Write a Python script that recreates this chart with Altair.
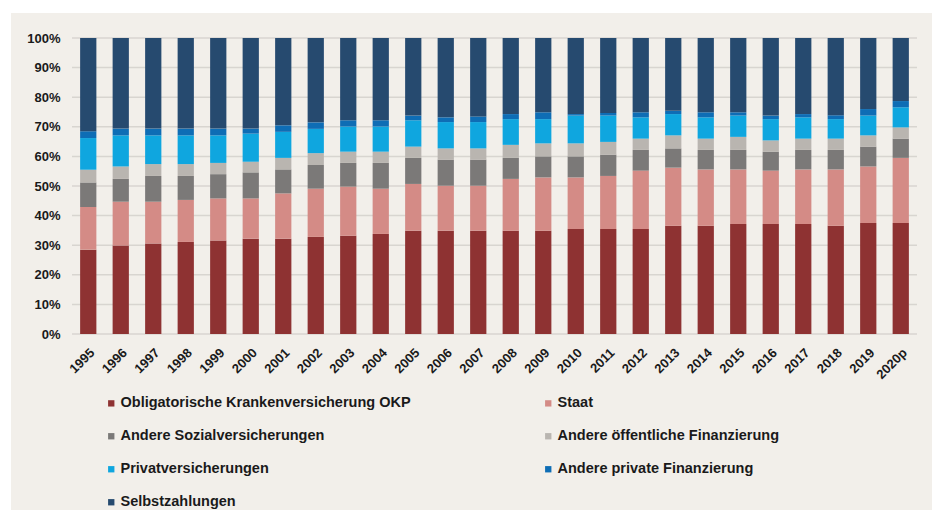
import altair as alt
import pandas as pd

years = ["1995", "1996", "1997", "1998", "1999", "2000", "2001", "2002", "2003",
         "2004", "2005", "2006", "2007", "2008", "2009", "2010", "2011", "2012",
         "2013", "2014", "2015", "2016", "2017", "2018", "2019", "2020p"]

categories = ["Obligatorische Krankenversicherung OKP", "Staat",
              "Andere Sozialversicherungen", "Andere öffentliche Finanzierung",
              "Privatversicherungen", "Andere private Finanzierung", "Selbstzahlungen"]

okp = [28.5, 29.9, 30.6, 31.1, 31.6, 32.2, 32.2, 32.8, 33.2, 33.8, 34.9, 34.9, 34.9,
       34.9, 34.9, 35.5, 35.5, 35.5, 36.6, 36.6, 37.2, 37.2, 37.2, 36.6, 37.5, 37.5]
staat = [14.4, 14.8, 14.1, 14.2, 14.2, 13.6, 15.3, 16.3, 16.6, 15.3, 15.8, 15.2, 15.2,
         17.5, 18.0, 17.4, 17.9, 19.7, 19.6, 19.0, 18.4, 18.0, 18.4, 19.0, 19.1, 22.0]
andere_sozial = [8.3, 7.7, 8.7, 8.1, 8.2, 8.8, 8.1, 8.0, 8.0, 8.7, 8.8, 8.8, 8.8,
                 7.1, 7.1, 7.1, 7.2, 7.0, 6.5, 6.6, 6.6, 6.4, 6.6, 6.6, 6.7, 6.5]
andere_oeff = [4.3, 4.2, 4.0, 4.0, 3.8, 3.6, 3.9, 4.0, 3.8, 3.8, 3.8, 3.8, 3.8,
               4.4, 4.4, 4.4, 4.3, 3.8, 4.4, 3.8, 4.4, 3.8, 3.8, 3.8, 3.8, 3.8]
privat = [10.7, 10.5, 9.7, 9.7, 9.3, 9.5, 8.8, 8.2, 8.5, 8.5, 8.9, 8.9, 8.9,
          8.7, 8.2, 9.4, 8.9, 7.2, 7.2, 7.2, 7.2, 7.2, 7.2, 6.6, 6.7, 6.8]
andere_privat = [2.3, 2.3, 2.3, 2.3, 2.3, 1.7, 2.2, 2.2, 2.1, 2.1, 1.6, 1.6, 1.9,
                 1.7, 2.3, 0.5, 0.9, 1.7, 1.1, 1.7, 1.1, 1.2, 1.1, 1.3, 2.2, 2.1]
selbst = [31.5, 30.6, 30.6, 30.6, 30.6, 30.6, 29.5, 28.5, 27.8, 27.8, 26.2, 26.8, 26.5,
          25.7, 25.1, 25.7, 25.3, 25.1, 24.6, 25.1, 25.1, 26.2, 25.7, 26.1, 24.0, 21.3]

colors = ["#8E3232", "#D48B86", "#7B7978", "#B9B5B0", "#0FA6DF", "#0E6DB5", "#264A6F"]

grid_values = [0.0, 0.1, 0.2, 0.3, 0.4, 0.5, 0.6, 0.7, 0.8, 0.9, 1.0]

series = [okp, staat, andere_sozial, andere_oeff, privat, andere_privat, selbst]
rows = []
for ci, (cat, vals) in enumerate(zip(categories, series)):
    for y, v in zip(years, vals):
        rows.append({"Jahr": y, "Kategorie": cat, "Anteil": v, "order": ci})
df = pd.DataFrame(rows)

# legend is filled column by column: reorder so that rows read like the original
legend_order = [0, 2, 4, 6, 1, 3, 5]
legend_domain = [categories[i] for i in legend_order]
legend_range = [colors[i] for i in legend_order]

W, H = 845, 296
FONT = "Liberation Sans"

y_axis = alt.Axis(title=None, format=".0%", values=grid_values,
                  labelFont=FONT, labelFontWeight="bold", labelFontSize=13,
                  labelColor="#1a1a1a", ticks=False, domain=False,
                  labelPadding=12, grid=False, zindex=1)

background = alt.Chart(pd.DataFrame({"a": [0]})).mark_rect(
    color="#F2EFEA"
).encode(
    x=alt.value(-61), x2=alt.value(W + 30),
    y=alt.value(-25), y2=alt.value(H + 190)
)

grid = alt.Chart(pd.DataFrame({"g": grid_values})).mark_rule(
    color="#D8D5D0", strokeWidth=1.5
).encode(
    y=alt.Y("g:Q", scale=alt.Scale(domain=[0, 1]), axis=y_axis)
)

bars = alt.Chart(df).mark_bar().encode(
    x=alt.X("Jahr:N", sort=years,
            scale=alt.Scale(paddingInner=0.5, paddingOuter=0.25),
            axis=alt.Axis(title=None, labelAngle=-45, labelFont=FONT,
                          labelFontWeight="bold", labelFontSize=13,
                          labelColor="#1a1a1a", ticks=False, domain=False,
                          labelPadding=12, grid=False, zindex=1)),
    y=alt.Y("Anteil:Q", stack="normalize",
            scale=alt.Scale(domain=[0, 1]), axis=y_axis),
    color=alt.Color("Kategorie:N",
                    scale=alt.Scale(domain=legend_domain, range=legend_range),
                    legend=alt.Legend(title=None, orient="none", legendX=32, legendY=358,
                                      columns=2, columnPadding=130, rowPadding=18,
                                      symbolType="square", symbolSize=40,
                                      symbolStrokeWidth=0, labelFont=FONT,
                                      labelFontWeight="bold", labelFontSize=14.5,
                                      labelColor="#1a1a1a", labelLimit=400,
                                      symbolOffset=0, labelOffset=2)),
    order=alt.Order("order:Q", sort="ascending"),
)

chart = alt.layer(background, grid, bars).properties(
    width=W, height=H,
    autosize=alt.AutoSizeParams(type="none"),
    padding={"left": 64, "top": 30, "right": 15, "bottom": 176},
    background="white",
).configure_view(stroke=None)

chart.save("out.html", embed_options={"renderer": "svg", "actions": False})
